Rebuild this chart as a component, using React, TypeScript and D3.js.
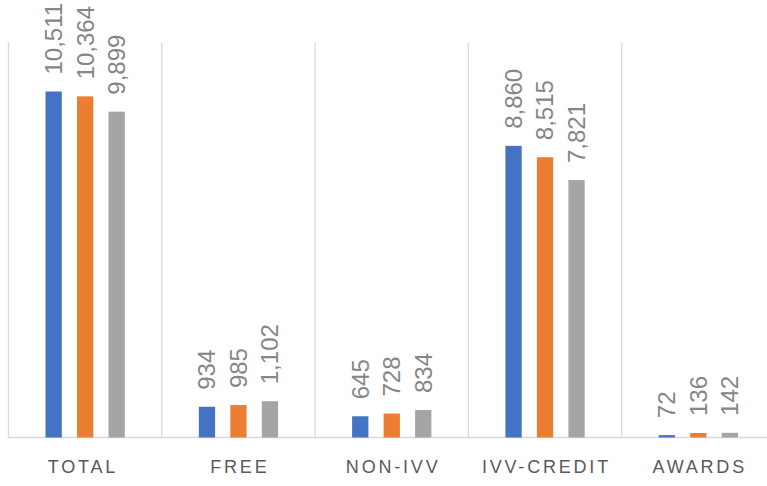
import React from "react";
import * as d3 from "d3";

const categories = ["TOTAL ", "FREE", "NON-IVV", "IVV-CREDIT", "AWARDS"];
const seriesNames = ["Series1", "Series2", "Series3"];
const series1 = [10511, 934, 645, 8860, 72];
const series2 = [10364, 985, 728, 8515, 136];
const series3 = [9899, 1102, 834, 7821, 142];
const colors = ["#4472C4", "#ED7D31", "#A5A5A5"];

const W = 767;
const H = 486;

export default function App() {
  const x0 = d3.scaleBand<string>().domain(categories).range([8.5, 775]).padding(0);
  const x1 = d3
    .scaleBand<string>()
    .domain(seriesNames)
    .range([0, x0.bandwidth()])
    .paddingInner(0.483)
    .paddingOuter(1.175);
  const y = d3.scaleLinear().domain([0, 12000]).range([437.5, 42.5]);
  const fmt = d3.format(",");
  const allSeries = [series1, series2, series3];
  const bounds = categories.map((c) => x0(c) as number).concat([x0.range()[1]]);

  return (
    <svg
      width={W}
      height={H}
      style={{ position: "absolute", left: 0, top: 0, display: "block", background: "#fff" }}
      fontFamily="'Liberation Sans', Arial, sans-serif"
    >
      {bounds.map((bx, i) => (
        <line key={"g" + i} x1={bx} x2={bx} y1={y(12000)} y2={y(0)} stroke="#d9d9d9" strokeWidth={1.3} />
      ))}
      <line x1={x0.range()[0]} x2={x0.range()[1]} y1={y(0)} y2={y(0)} stroke="#d9d9d9" strokeWidth={1.5} />
      {categories.map((c, ci) => (
        <g key={c} transform={`translate(${x0(c)},0)`}>
          {allSeries.map((s, si) => {
            const bx = x1(seriesNames[si]) as number;
            const v = s[ci];
            return (
              <g key={si}>
                <rect x={bx} y={y(v)} width={x1.bandwidth()} height={y(0) - y(v)} fill={colors[si]} />
                <text
                  transform={`translate(${bx + x1.bandwidth() / 2},${y(v) - 17}) rotate(-90)`}
                  dy="0.35em"
                  fontSize={24}
                  fill="#868686"
                  textAnchor="start"
                >
                  {fmt(v)}
                </text>
              </g>
            );
          })}
          <text
            x={x0.bandwidth() / 2 + 1.4}
            y={473}
            fontSize={18}
            letterSpacing={2.8}
            fill="#595959"
            textAnchor="middle"
            style={{ whiteSpace: "pre" }}
          >
            {c}
          </text>
        </g>
      ))}
    </svg>
  );
}
